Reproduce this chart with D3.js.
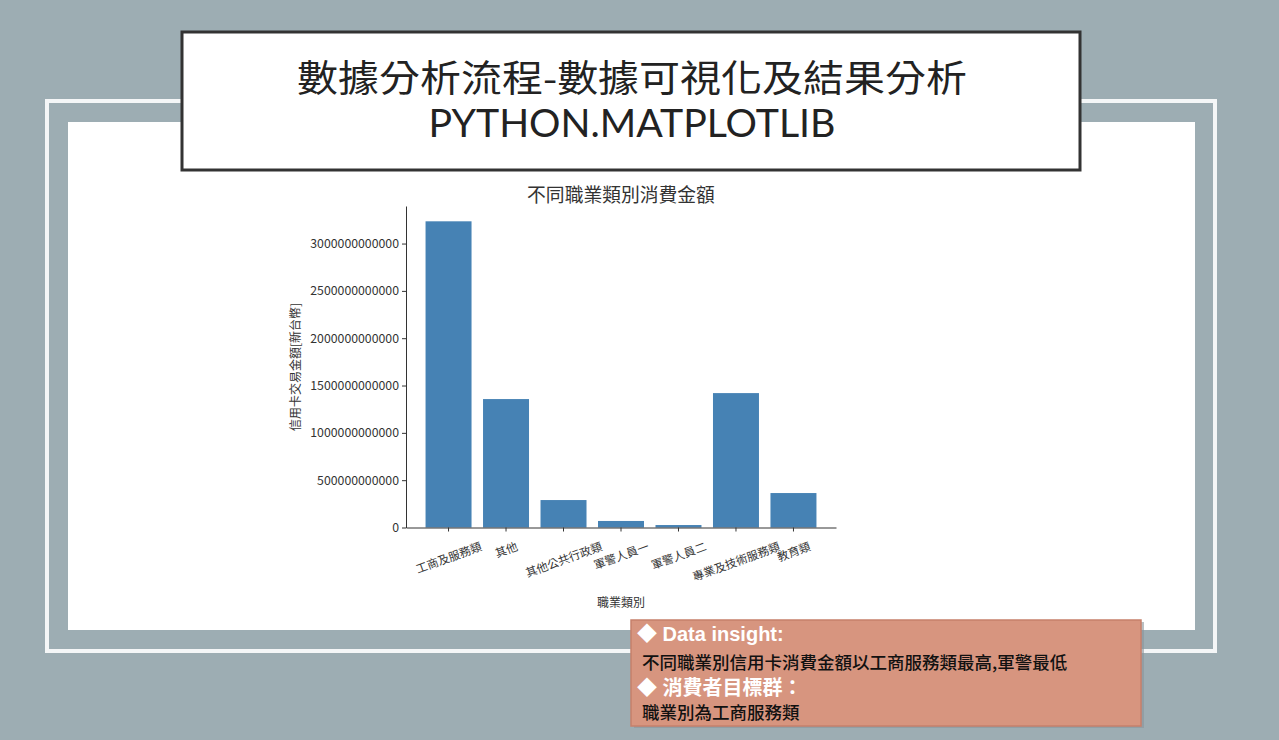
<!DOCTYPE html>
<html>
<head>
<meta charset="utf-8">
<script src="https://cdn.jsdelivr.net/npm/d3@7"></script>
<style>
	body { margin: 0; background: #9dadb3; }
	svg { display: block; }
</style>
</head>
<body>
<svg id="slide"></svg>
<script>
// occupation categories and card spending (NTD)
const categories = ['工商及服務類', '其他', '其他公共行政類', '軍警人員一', '軍警人員二', '專業及技術服務類', '教育類']
const spending = [3235e9, 1357e9, 290e9, 69e9, 26e9, 1420e9, 364e9]
const yTicks = [0, 500e9, 1000e9, 1500e9, 2000e9, 2500e9, 3000e9]

const slideTitle = '數據分析流程-數據可視化及結果分析'
const slideSubtitle = 'PYTHON.MATPLOTLIB'
const chartTitle = '不同職業類別消費金額'
const xLabel = '職業類別'
const yLabel = '信用卡交易金額[新台幣]'
const insightLines = [
	{ text: '◆ Data insight:', head: true },
	{ text: '不同職業別信用卡消費金額以工商服務類最高,軍警最低', head: false },
	{ text: '◆  消費者目標群：', head: true },
	{ text: '職業別為工商服務類', head: false }
]
const insightBaselines = [641, 669, 695, 719]

const width = 1279
const height = 740
const cjk = '"Noto Sans CJK TC", "Noto Sans", sans-serif'

const svg = d3.select('#slide').attr('width', width).attr('height', height)

// slide background and frames
svg.append('rect').attr('width', width).attr('height', height).attr('fill', '#9dadb3')
svg
	.append('rect')
	.attr('x', 47)
	.attr('y', 101)
	.attr('width', 1168)
	.attr('height', 550)
	.attr('fill', 'none')
	.attr('stroke', '#f4f6f7')
	.attr('stroke-width', 4)
svg
	.append('rect')
	.attr('x', 68)
	.attr('y', 122)
	.attr('width', 1127)
	.attr('height', 508)
	.attr('fill', '#fff')

// title box
svg
	.append('rect')
	.attr('x', 182)
	.attr('y', 32)
	.attr('width', 898)
	.attr('height', 138)
	.attr('fill', '#fff')
	.attr('stroke', '#333')
	.attr('stroke-width', 3)
svg
	.append('text')
	.attr('x', 632)
	.attr('y', 92)
	.attr('text-anchor', 'middle')
	.attr('font-family', cjk)
	.attr('font-size', 37)
	.attr('fill', '#222')
	.attr('textLength', 670)
	.attr('lengthAdjust', 'spacingAndGlyphs')
	.text(slideTitle)
svg
	.append('text')
	.attr('x', 632)
	.attr('y', 137)
	.attr('text-anchor', 'middle')
	.attr('font-family', 'Lato, sans-serif')
	.attr('font-size', 38)
	.attr('fill', '#222')
	.attr('textLength', 407)
	.attr('lengthAdjust', 'spacingAndGlyphs')
	.text(slideSubtitle)

// bar chart
const margin = { top: 206, right: 836, bottom: 527.5, left: 406 }

const xScale = d3
	.scaleBand()
	.domain(categories)
	.range([margin.left, margin.right])
	.paddingInner(0.2)
	.paddingOuter(0.34)
const yScale = d3
	.scaleLinear()
	.domain([0, d3.max(spending) * 1.05])
	.range([margin.bottom, margin.top])

const chart = svg.append('g').attr('font-family', cjk)

chart
	.selectAll('rect.bar')
	.data(categories)
	.join('rect')
	.attr('class', 'bar')
	.attr('x', d => xScale(d))
	.attr('y', (d, i) => yScale(spending[i]))
	.attr('width', xScale.bandwidth())
	.attr('height', (d, i) => margin.bottom - yScale(spending[i]))
	.attr('fill', '#4682b4')

const yAxis = chart
	.append('g')
	.attr('transform', `translate(${margin.left},0)`)
	.call(d3.axisLeft(yScale).tickValues(yTicks).tickFormat(d3.format('d')).tickSizeInner(4).tickSizeOuter(0).tickPadding(3))
yAxis.select('.domain').attr('stroke', '#333')
yAxis.selectAll('.tick line').attr('stroke', '#333')
yAxis.selectAll('.tick text').attr('font-family', cjk).attr('font-size', 12.3).attr('fill', '#333')

const xAxis = chart
	.append('g')
	.attr('transform', `translate(0,${margin.bottom})`)
	.call(d3.axisBottom(xScale).tickSizeInner(4).tickSizeOuter(0))
xAxis.select('.domain').attr('stroke', '#333')
xAxis.selectAll('.tick line').attr('stroke', '#333')

// rotated tick labels, centred under the tick like matplotlib rotation=20
const angle = 20
const rad = (angle * Math.PI) / 180
xAxis
	.selectAll('.tick text')
	.attr('font-family', cjk)
	.attr('font-size', 11.5)
	.attr('fill', '#333')
	.attr('text-anchor', 'middle')
	.attr('dominant-baseline', 'central')
	.attr('dy', null)
	.each(function () {
		const w = this.getComputedTextLength()
		const boxH = w * Math.sin(rad) + 12 * Math.cos(rad)
		const cy = 12 + boxH / 2
		d3.select(this).attr('y', cy).attr('transform', `rotate(${-angle},0,${cy})`)
	})

chart
	.append('text')
	.attr('x', (margin.left + margin.right) / 2)
	.attr('y', 193)
	.attr('text-anchor', 'middle')
	.attr('dominant-baseline', 'central')
	.attr('font-size', 18.8)
	.attr('fill', '#333')
	.text(chartTitle)

chart
	.append('text')
	.attr('x', 621)
	.attr('y', 601)
	.attr('text-anchor', 'middle')
	.attr('dominant-baseline', 'central')
	.attr('font-size', 12)
	.attr('fill', '#333')
	.text(xLabel)

chart
	.append('text')
	.attr('transform', 'translate(294,367) rotate(-90)')
	.attr('text-anchor', 'middle')
	.attr('dominant-baseline', 'central')
	.attr('font-size', 12)
	.attr('fill', '#333')
	.text(yLabel)

// insight box
svg
	.append('rect')
	.attr('x', 634)
	.attr('y', 622)
	.attr('width', 510)
	.attr('height', 106)
	.attr('fill', '#8a9599')
	.attr('opacity', 0.6)
svg
	.append('rect')
	.attr('x', 631)
	.attr('y', 620)
	.attr('width', 510)
	.attr('height', 106)
	.attr('fill', '#d7957f')
	.attr('stroke', '#c6806b')
	.attr('stroke-width', 1.5)

svg
	.append('g')
	.selectAll('text')
	.data(insightLines)
	.join('text')
	.attr('x', d => (d.head ? 637 : 642))
	.attr('y', (d, i) => insightBaselines[i])
	.attr('font-family', d => (d.head ? '"Liberation Sans", ' + cjk : cjk))
	.attr('font-weight', d => (d.head ? 'bold' : 500))
	.attr('font-size', d => (d.head ? 20 : 17.5))
	.attr('fill', d => (d.head ? '#fff' : '#111'))
	.text(d => d.text)
</script>
</body>
</html>
